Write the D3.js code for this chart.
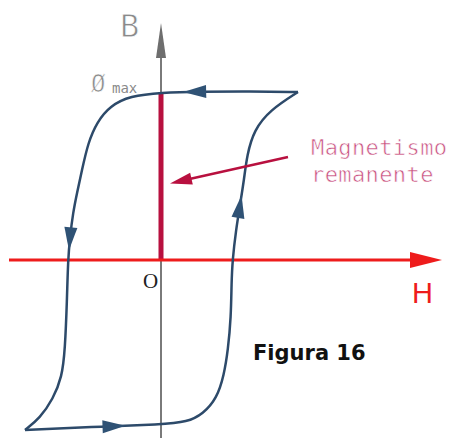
<!DOCTYPE html>
<html>
<head>
<meta charset="utf-8">
<script src="https://cdn.jsdelivr.net/npm/d3@7"></script>
<style>
body { margin: 0; background: #fff; }
svg { display: block; }
</style>
</head>
<body>
<div id="chart"></div>
<script>
var width = 451;
var height = 438;

// rama descendente del ciclo (H, B)
var upperBranch = [[13.7, 16.8], [8.9, 16.85], [3.9, 16.85], [0, 16.75], [-3.1, 16.4], [-5.1, 15.4], [-6.4, 13.8],
    [-7.3, 11.7], [-7.9, 9], [-8.4, 6.7], [-8.8, 4.7], [-9.1, 2.3], [-9.3, 0], [-9.4, -4], [-9.6, -9],
    [-9.9, -11.7], [-10.8, -13.9], [-12.1, -15.8], [-13.6, -17]];
// rama ascendente
var lowerBranch = [[-13.6, -17], [-7.1, -16.7], [0.2, -16.45], [2.6, -16.2], [4.2, -15.4], [5.6, -13.8], [6.3, -11.5],
    [6.7, -9], [7, -5.7], [7.05, -2.3], [7.15, 0], [7.5, 3], [7.9, 5.5], [8.3, 8], [8.6, 10.5], [9.3, 13],
    [10.9, 15], [13.7, 16.8]];
// flechas: rama y fraccion del recorrido
var loopArrows = [["upper", 0.215], ["upper", 0.64], ["lower", 0.19], ["lower", 0.765]];
var remanence = 16.8;
var hRange = [-15.2, 28.1];
var bRange = [-17.8, 23.7];
var labels = { b: "B", h: "H", origin: "O", phi: "\u00D8", max: "max", note: ["Magnetismo", "remanente"], figure: "Figura 16" };

var x = d3.scaleLinear().domain([-16, 29]).range([1, 451]);
var y = d3.scaleLinear().domain([-17.8, 26]).range([438, 0]);

var svg = d3.select("#chart")
    .append("svg")
    .attr("width", width)
    .attr("height", height);

svg.append("rect")
    .attr("width", width)
    .attr("height", height)
    .attr("fill", "white");

// eje B (gris)
svg.append("line")
    .attr("x1", x(0)).attr("x2", x(0))
    .attr("y1", y(bRange[0])).attr("y2", y(bRange[1]) + 30)
    .style("stroke", "#7a7a7a")
    .style("stroke-width", 2);

svg.append("path")
    .attr("d", "M0,0 L-35,-5 L-35,5 Z")
    .attr("transform", "translate(" + x(0) + "," + y(bRange[1]) + ") rotate(-90)")
    .attr("fill", "#6e6e6e");

// magnetismo remanente
svg.append("line")
    .attr("x1", x(0)).attr("x2", x(0))
    .attr("y1", y(0)).attr("y2", y(remanence))
    .style("stroke", "#b8103f")
    .style("stroke-width", 5);

// eje H (rojo)
svg.append("line")
    .attr("x1", x(hRange[0])).attr("x2", x(hRange[1]) - 30)
    .attr("y1", y(0)).attr("y2", y(0))
    .style("stroke", "#ee1c1c")
    .style("stroke-width", 3);

svg.append("path")
    .attr("d", "M0,0 L-32,-8 L-32,8 Z")
    .attr("transform", "translate(" + x(hRange[1]) + "," + y(0) + ")")
    .attr("fill", "#ee1c1c");

// ciclo de histeresis
var line = d3.line()
    .x(function(d) { return x(d[0]); })
    .y(function(d) { return y(d[1]); })
    .curve(d3.curveBasis);

var branches = { upper: upperBranch, lower: lowerBranch };
var paths = {};

Object.keys(branches).forEach(function(k) {
    paths[k] = svg.append("path")
        .attr("d", line(branches[k]))
        .attr("fill", "none")
        .style("stroke", "#2d4a6a")
        .style("stroke-width", 2.5)
        .node();
});

loopArrows.forEach(function(a) {
    var p = paths[a[0]];
    var len = p.getTotalLength() * a[1];
    var tip = p.getPointAtLength(len);
    var back = p.getPointAtLength(len - 8);
    var angle = Math.atan2(tip.y - back.y, tip.x - back.x) * 180 / Math.PI;
    svg.append("path")
        .attr("d", "M0,0 L-23,-6.5 L-23,6.5 Z")
        .attr("transform", "translate(" + tip.x + "," + tip.y + ") rotate(" + angle + ")")
        .attr("fill", "#2f5275");
});

// flecha de la nota
svg.append("line")
    .attr("x1", 288).attr("y1", 157)
    .attr("x2", 185).attr("y2", 180)
    .style("stroke", "#b8103f")
    .style("stroke-width", 2.5);

svg.append("path")
    .attr("d", "M0,0 L-22,-6 L-22,6 Z")
    .attr("transform", "translate(170,183.5) rotate(" + (Math.atan2(183.5 - 157, 170 - 288) * 180 / Math.PI) + ")")
    .attr("fill", "#b8103f");

// textos
var mono = "'DejaVu Sans Mono', monospace";

svg.append("text")
    .attr("x", 120).attr("y", 37)
    .style("font-family", mono)
    .style("font-size", "32px")
    .style("fill", "#8a8a8a")
    .style("stroke", "white").style("stroke-width", 0.8)
    .text(labels.b);

svg.append("text")
    .attr("x", 91).attr("y", 92)
    .style("font-family", mono)
    .style("font-size", "24px")
    .style("fill", "#8a8a8a")
    .style("stroke", "white").style("stroke-width", 0.6)
    .text(labels.phi);

svg.append("text")
    .attr("x", 112).attr("y", 93)
    .style("font-family", mono)
    .style("font-size", "14px")
    .style("fill", "#8a8a8a")
    .text(labels.max);

svg.append("text")
    .attr("x", 143).attr("y", 288)
    .style("font-family", "'Liberation Serif', serif")
    .style("font-size", "21px")
    .style("fill", "#222")
    .text(labels.origin);

svg.append("text")
    .attr("x", 412).attr("y", 303)
    .style("font-family", "'Liberation Sans', sans-serif")
    .style("font-size", "29px")
    .style("fill", "#ee1c1c")
    .text(labels.h);

svg.selectAll(".note")
    .data(labels.note)
    .enter().append("text")
    .attr("class", "note")
    .attr("x", 311)
    .attr("y", function(d, i) { return 155 + i * 27; })
    .style("font-family", mono)
    .style("font-size", "22px")
    .style("letter-spacing", "0.4px")
    .style("fill", "#c8507e")
    .style("stroke", "white").style("stroke-width", 0.6)
    .text(function(d) { return d; });

svg.append("text")
    .attr("x", 253).attr("y", 360)
    .style("font-family", "'DejaVu Sans', sans-serif")
    .style("font-size", "21px")
    .style("font-weight", "bold")
    .style("fill", "#111")
    .text(labels.figure);
</script>
</body>
</html>
